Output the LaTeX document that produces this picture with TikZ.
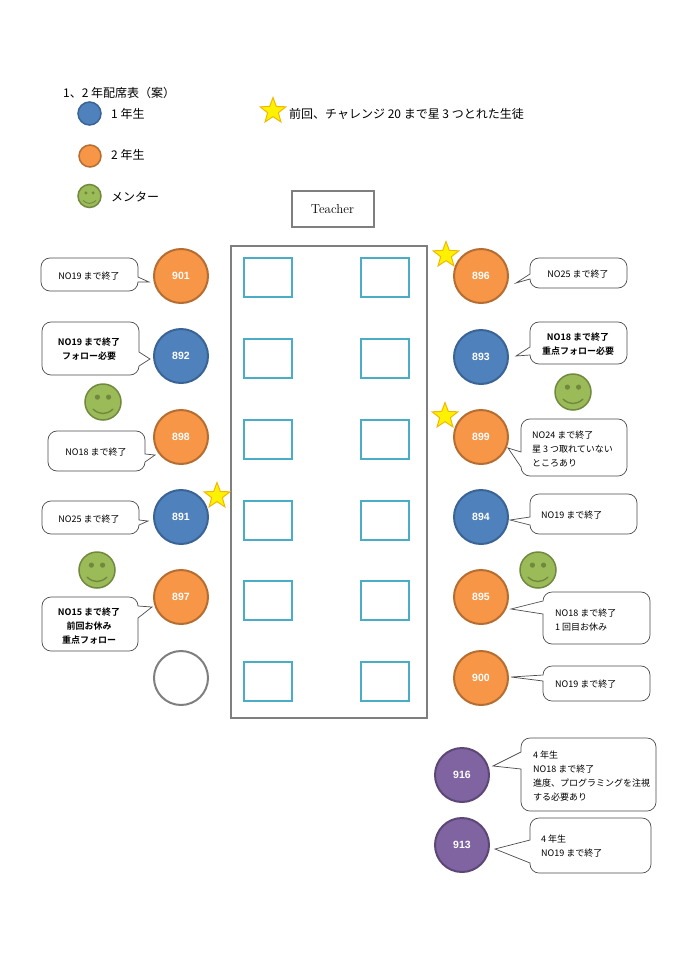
\documentclass[tikz,border=0pt]{standalone}
\usepackage{fontspec}
\usetikzlibrary{shapes.geometric}
\newfontfamily\cjk{Noto Sans CJK JP}
\newfontfamily\cjkb{Noto Sans CJK JP Bold}
\newfontfamily\seatfont{Liberation Sans}[BoldFont={Liberation Sans Bold}]
\definecolor{bluef}{HTML}{4F81BD}\definecolor{blued}{HTML}{3A6496}
\definecolor{orangef}{HTML}{F79646}\definecolor{oranged}{HTML}{B66D31}
\definecolor{purplef}{HTML}{8064A2}\definecolor{purpled}{HTML}{5C4776}
\definecolor{greenf}{HTML}{9BBB59}\definecolor{greend}{HTML}{71893F}
\definecolor{teald}{HTML}{4BACC6}\definecolor{grayd}{HTML}{7F7F7F}
\definecolor{starl}{HTML}{F2B800}
\tikzset{
 seat/.style={circle,draw,line width=2pt,minimum size=54pt,inner sep=0pt,text=white,font=\seatfont\bfseries\fontsize{10.5}{13}\selectfont},
 blueseat/.style={seat,fill=bluef,draw=blued},
 orangeseat/.style={seat,fill=orangef,draw=oranged},
 purpleseat/.style={seat,fill=purplef,draw=purpled},
 emptyseat/.style={seat,fill=white,draw=grayd},
 desk/.style={draw=teald,line width=2pt,fill=white},
 starmark/.style={star,star points=5,star point ratio=2.4,fill=yellow,draw=starl,line width=1pt,minimum size=27pt,inner sep=0pt},
 bub/.style={draw=black!70,line width=0.7pt,fill=white,line join=miter},
 note/.style={inner sep=0pt,align=left,anchor=west,font=\cjk\fontsize{9}{14}\selectfont,text=black},
 cnote/.style={inner sep=0pt,align=center,font=\cjk\fontsize{9}{14}\selectfont,text=black},
 bnote/.style={inner sep=0pt,align=center,font=\cjkb\fontsize{9}{14}\selectfont,text=black},
 legend/.style={inner sep=0pt,anchor=west,font=\cjk\fontsize{12}{14}\selectfont,text=black},
}
\def\rr{9}\def\rk{4}
% rounded joins between the box sides: top right, bottom right, bottom left, top left
\newcommand{\cTR}[2]{.. controls (#1-\rk,#2) and (#1,#2+\rk) .. (#1,#2+\rr)}
\newcommand{\cBR}[2]{.. controls (#1,#2-\rk) and (#1-\rk,#2) .. (#1-\rr,#2)}
\newcommand{\cBL}[2]{.. controls (#1+\rk,#2) and (#1,#2-\rk) .. (#1,#2-\rr)}
\newcommand{\cTL}[2]{.. controls (#1,#2+\rk) and (#1+\rk,#2) .. (#1+\rr,#2)}
% #1..#4 box, #5,#6 tip, #7,#8 pointer base, #9 tip name
\newcommand{\bubbleR}[9]{\coordinate (#9) at (#5,#6);
 \draw[bub] (#1+\rr,#2) -- (#3-\rr,#2) \cTR{#3}{#2} -- (#3,#7) -- (#9) -- (#3,#8) -- (#3,#4-\rr) \cBR{#3}{#4} -- (#1+\rr,#4) \cBL{#1}{#4} -- (#1,#2+\rr) \cTL{#1}{#2} -- cycle;}
\newcommand{\bubbleL}[9]{\coordinate (#9) at (#5,#6);
 \draw[bub] (#1+\rr,#2) -- (#3-\rr,#2) \cTR{#3}{#2} -- (#3,#4-\rr) \cBR{#3}{#4} -- (#1+\rr,#4) \cBL{#1}{#4} -- (#1,#8) -- (#9) -- (#1,#7) -- (#1,#2+\rr) \cTL{#1}{#2} -- cycle;}
% name, x, y, radius
\newcommand{\smiley}[4]{\node[circle,draw=greend,fill=greenf,line width=1.5pt,minimum size=#4*2pt,inner sep=0pt] (#1) at (#2,#3) {};
 \fill[greend] (#2-#4*0.31,#3-#4*0.27) circle[radius=#4*0.145];
 \fill[greend] (#2+#4*0.31,#3-#4*0.27) circle[radius=#4*0.145];
 \draw[greend,line width=#4*0.08pt,line cap=round] (#2-#4*0.55,#3+#4*0.4) .. controls (#2-#4*0.2,#3+#4*0.72) and (#2+#4*0.2,#3+#4*0.72) .. (#2+#4*0.55,#3+#4*0.4);}
\begin{document}
\begin{tikzpicture}[x=1pt,y=-1pt]
\useasboundingbox (0,0) rectangle (685,969);
% legend
\node[legend] (title) at (63,93) {1、2 年配席表（案）};
\node[circle,draw=blued,fill=bluef,line width=1.5pt,minimum size=23pt,inner sep=0pt] (lgblue) at (89.5,113.5) {};
\node[circle,draw=oranged,fill=orangef,line width=1.5pt,minimum size=22pt,inner sep=0pt] (lgorange) at (90,156) {};
\smiley{lgsmile}{89.5}{196}{11.5}
\node[legend] (lg1) at (111,114) {1 年生};
\node[legend] (lg2) at (111,155) {2 年生};
\node[legend] (lg3) at (111,197) {メンター};
\node[starmark] (lgstar) at (273,111) {};
\node[legend] (lgstartext) at (289,114) {前回、チャレンジ 20 まで星 3 つとれた生徒};
% teacher and room
\node[draw=grayd,line width=2pt,minimum width=82pt,minimum height=36pt,inner sep=0pt,font=\fontsize{13}{15}\selectfont] (teacher) at (332.5,209) {Teacher};
\draw[grayd,line width=2.5pt] (231,246) rectangle (427,718);
\foreach \y in {258,339,420,500.5,581,662}{
 \draw[desk] (244,\y) rectangle (292,\y+39);
 \draw[desk] (361,\y) rectangle (409,\y+39);
}
% seats
\node[orangeseat] (s901) at (181,276) {901};
\node[blueseat] (s892) at (181,356) {892};
\node[orangeseat] (s898) at (181,437) {898};
\node[blueseat] (s891) at (181,517) {891};
\node[orangeseat] (s897) at (181,597) {897};
\node[emptyseat] (sempty) at (181,678) {};
\node[orangeseat] (s896) at (481,276) {896};
\node[blueseat] (s893) at (481,357) {893};
\node[orangeseat] (s899) at (481,437) {899};
\node[blueseat] (s894) at (481,517) {894};
\node[orangeseat] (s895) at (481,597) {895};
\node[orangeseat] (s900) at (481,678) {900};
\node[purpleseat] (s916) at (462,775) {916};
\node[purpleseat] (s913) at (462,845) {913};
% mentors and stars
\smiley{m1}{103}{402}{18}
\smiley{m2}{97}{570}{18}
\smiley{m3}{573}{392}{18}
\smiley{m4}{538}{570}{18}
\node[starmark] (st1) at (217,496) {};
\node[starmark] (st2) at (446,255) {};
\node[starmark] (st3) at (445,416) {};
% callouts left
\bubbleR{41}{258}{138}{291}{149}{282}{277}{282}{t901}
\node[cnote] (n901) at (89,276) {NO19 まで終了};
\bubbleR{42}{322}{139}{375}{150}{359}{352}{366}{t892}
\node[bnote] (n892) at (89,349.5) {NO19 まで終了\\フォロー必要};
\bubbleR{48}{431}{145}{471}{155}{455}{454}{462}{t898}
\node[cnote] (n898) at (96,452.5) {NO18 まで終了};
\bubbleR{42}{501}{139}{534}{148}{521}{520}{525}{t891}
\node[cnote] (n891) at (89,519) {NO25 まで終了};
\bubbleR{42}{597}{138}{651}{152}{607}{606}{618}{t897}
\node[bnote] (n897) at (89,626) {NO15 まで終了\\前回お休み\\重点フォロー};
% callouts right
\bubbleL{530}{258}{627}{288}{516}{283}{274}{279}{t896}
\node[cnote] (n896) at (578,274) {NO25 まで終了};
\bubbleL{530}{322}{627}{364}{516}{356}{347}{355}{t893}
\node[bnote] (n893) at (578,344) {NO18 まで終了\\重点フォロー必要};
\bubbleL{521}{419}{627}{476}{508}{448}{452}{467}{t899}
\node[note] (n899) at (532,449) {NO24 まで終了\\星 3 つ取れていない\\ところあり};
\bubbleL{530}{494}{637}{534}{510}{520}{517}{525}{t894}
\node[note] (n894) at (541,515) {NO19 まで終了};
\bubbleL{543}{592}{650}{644}{511}{609}{601}{614}{t895}
\node[note] (n895) at (555,620) {NO18 まで終了\\1 回目お休み};
\bubbleL{543}{666}{650}{701}{511}{677}{675}{681}{t900}
\node[note] (n900) at (555,684) {NO19 まで終了};
\bubbleL{521}{738}{656}{811}{493}{766}{752}{769}{t916}
\node[note] (n916) at (533,776) {4 年生\\NO18 まで終了\\進度、プログラミングを注視\\する必要あり};
\bubbleL{530}{818}{651}{873}{495}{849}{840}{863}{t913}
\node[note] (n913) at (541,846) {4 年生\\NO19 まで終了};
\end{tikzpicture}
\end{document}
